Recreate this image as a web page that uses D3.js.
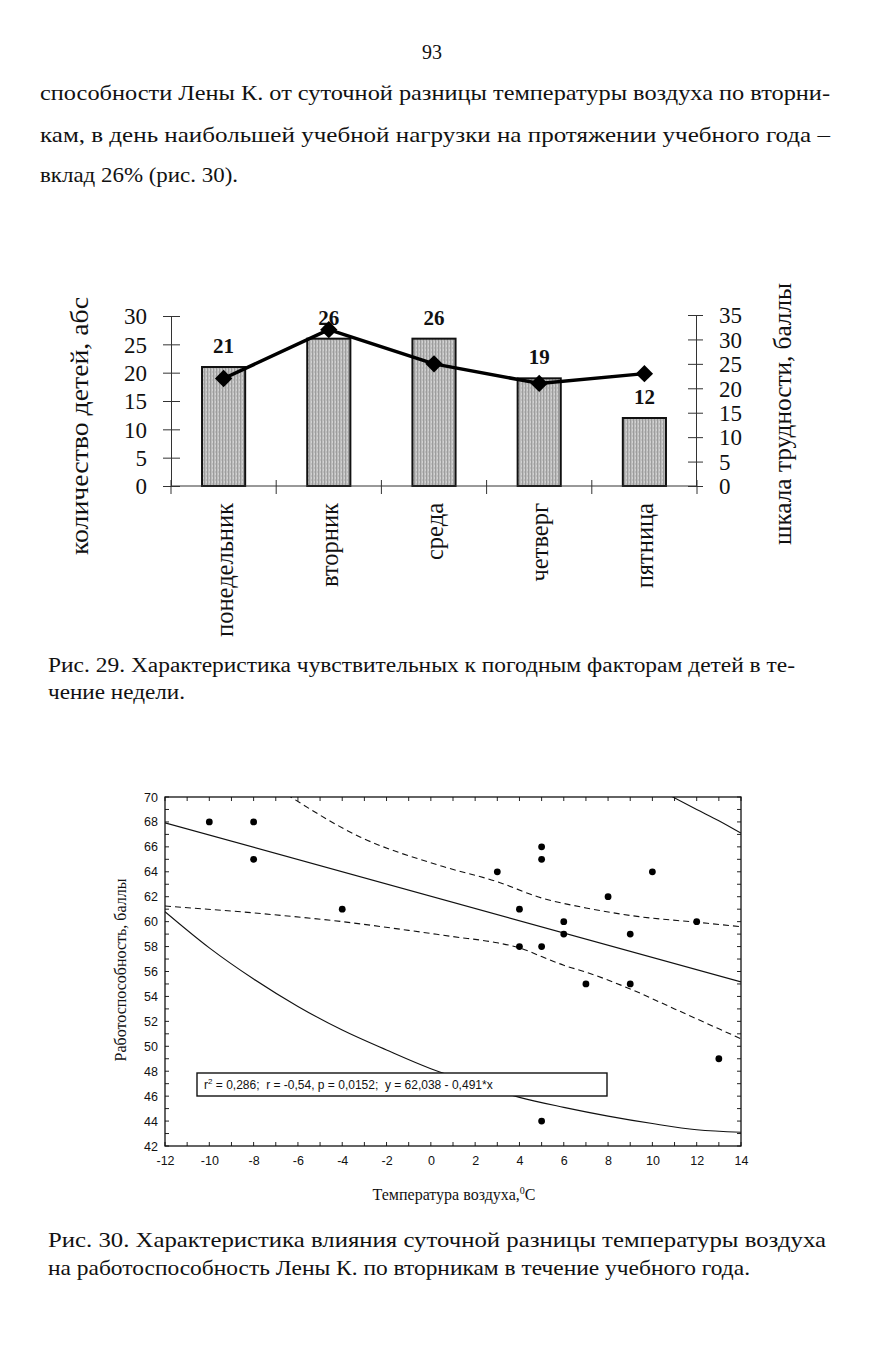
<!DOCTYPE html>
<html><head><meta charset="utf-8">
<script src="https://cdn.jsdelivr.net/npm/d3@7"></script>
<style>body{margin:0;background:#fff}svg{display:block}</style>
</head><body>
<script>
// ---------- data: figure 29 ----------
const days = ["понедельник","вторник","среда","четверг","пятница"];
const childrenCount = [21,26,26,19,12];
const difficulty = [22,32,25,21,23];
const leftTicks = [0,5,10,15,20,25,30];
const rightTicks = [0,5,10,15,20,25,30,35];

// ---------- data: figure 30 ----------
const tempX = [-10,-8,-8,-4,3,4,4,5,5,5,5,6,6,7,8,9,9,10,12,13];
const workY = [68,68,65,61,64,61,58,66,65,58,44,60,59,55,62,59,55,64,60,49];
const regLine = [[-12,67.93],[14,55.17]];
const confUpper = [[-6.5,70.2],[-3.2,66.8],[0.4,64.5],[3,63.2],[5,61.9],[7,61.1],[9.4,60.4],[12,59.95],[14,59.6]];
const confLower = [[-12,61.25],[-8,60.7],[-4,60.0],[-1,59.3],[1,58.8],[3,58.3],[4,57.9],[5,57.2],[6,56.5],[7,55.95],[9,54.6],[11,53.0],[13,51.4],[14,50.6]];
const predLower = [[-12,60.8],[-10,57.9],[-8,55.4],[-6,53.2],[-4,51.3],[-2,49.7],[0,48.2],[2,47.0],[4,45.9],[6,45.1],[8,44.4],[10,43.8],[12,43.3],[14,43.1]];
const predUpper = [[10.6,70.3],[12,69.0],[13,68.1],[14,67.1]];
const xTicks30 = [-12,-10,-8,-6,-4,-2,0,2,4,6,8,10,12,14];
const yTicks30 = [42,44,46,48,50,52,54,56,58,60,62,64,66,68,70];

const W = 873, H = 1350;
const serif = "Liberation Serif, Tinos, Times New Roman, serif";
const sans = "Liberation Sans, Arimo, Arial, sans-serif";

const svg = d3.select("body").append("svg").attr("width",W).attr("height",H);
svg.append("rect").attr("width",W).attr("height",H).attr("fill","#fff");

function line(txt,x,y,size,len,anchor){
  const t = svg.append("text").attr("x",x).attr("y",y).style("font-family",serif)
    .attr("font-size",size).attr("fill","#111").text(txt);
  if(anchor) t.attr("text-anchor",anchor);
  if(len) t.attr("textLength",len).attr("lengthAdjust","spacingAndGlyphs");
  return t;
}
// page text
line("93",432,59,20,null,"middle");
line("способности Лены К. от суточной разницы температуры воздуха по вторни-",40,100,22,790);
line("кам, в день наибольшей учебной нагрузки на протяжении учебного года –",40,142,22,790);
line("вклад 26% (рис. 30).",40,182,22,198);
line("Рис. 29. Характеристика чувствительных к погодным факторам детей в те-",48,672,20,747);
line("чение недели.",48,699,20,137);
line("Рис. 30. Характеристика влияния суточной разницы температуры воздуха",48,1247,21,778);
line("на работоспособность Лены К. по вторникам в течение учебного года.",48,1275,21,702);

// ---------- figure 29 ----------
const defs = svg.append("defs");
const pat = defs.append("pattern").attr("id","tex").attr("patternUnits","userSpaceOnUse")
  .attr("width",3).attr("height",4);
pat.append("rect").attr("width",3).attr("height",4).attr("fill","#bdbdbd");
pat.append("rect").attr("width",1).attr("height",4).attr("fill","#9c9c9c");
pat.append("rect").attr("x",2).attr("y",1).attr("width",1).attr("height",2).attr("fill","#d2d2d2");

const xb = d3.scaleBand().domain(days).range([171,697]).paddingInner(0.59).paddingOuter(0.295);
const yL = d3.scaleLinear().domain([0,30]).range([486,316]);
const yR = d3.scaleLinear().domain([0,35]).range([486,315]);

const g1 = svg.append("g");
g1.selectAll("rect.bar").data(days).join("rect").attr("class","bar")
  .attr("x",d=>xb(d)).attr("width",xb.bandwidth())
  .attr("y",(d,i)=>yL(childrenCount[i])).attr("height",(d,i)=>yL(0)-yL(childrenCount[i]))
  .attr("fill","url(#tex)").attr("stroke","#111").attr("stroke-width",2);

const axL = g1.append("g").attr("transform","translate(171,0)")
  .call(d3.axisLeft(yL).tickValues(leftTicks).tickSize(8).tickSizeOuter(0).tickPadding(16));
axL.select(".domain").attr("stroke","#333").attr("stroke-width",1);
axL.selectAll(".tick line").attr("x2",-8).attr("x1",9).attr("stroke","#333");
axL.selectAll("text").style("font-family",serif).attr("font-size",23).attr("fill","#111").attr("dy","0.34em");
const axR = g1.append("g").attr("transform","translate(696,0)")
  .call(d3.axisRight(yR).tickValues(rightTicks).tickSize(7).tickSizeOuter(0).tickPadding(16));
axR.select(".domain").attr("stroke","#333").attr("stroke-width",1);
axR.selectAll(".tick line").attr("x1",-8).attr("x2",7).attr("stroke","#333");
axR.selectAll("text").style("font-family",serif).attr("font-size",23).attr("fill","#111").attr("dy","0.34em");
const bounds = days.map(d=>xb(d)-xb.step()*xb.paddingInner()/2).concat([697]);
g1.append("line").attr("x1",171).attr("x2",697).attr("y1",486).attr("y2",486).attr("stroke","#333");
g1.selectAll("line.ct").data(bounds).join("line").attr("class","ct")
  .attr("x1",d=>d).attr("x2",d=>d).attr("y1",480).attr("y2",494).attr("stroke","#333");
g1.selectAll("text.cat").data(days).join("text").attr("class","cat")
  .attr("transform",d=>`translate(${xb(d)+xb.bandwidth()/2+9},503) rotate(-90)`)
  .attr("text-anchor","end").style("font-family",serif).attr("font-size",24.5).attr("fill","#111")
  .text(d=>d);
g1.selectAll("text.val").data(days).join("text").attr("class","val")
  .attr("x",d=>xb(d)+xb.bandwidth()/2).attr("y",(d,i)=>yL(childrenCount[i])-14)
  .attr("text-anchor","middle").style("font-family",serif).attr("font-weight","bold")
  .attr("font-size",21).attr("fill","#111").text((d,i)=>childrenCount[i]);
const lineGen = d3.line().x((d,i)=>xb(days[i])+xb.bandwidth()/2).y(d=>yR(d));
g1.append("path").datum(difficulty).attr("d",lineGen).attr("fill","none")
  .attr("stroke","#000").attr("stroke-width",3.5).attr("stroke-linejoin","round");
g1.selectAll("path.mk").data(difficulty).join("path").attr("class","mk")
  .attr("d",d3.symbol().type(d3.symbolSquare).size(150))
  .attr("transform",(d,i)=>`translate(${xb(days[i])+xb.bandwidth()/2},${yR(d)}) rotate(45)`)
  .attr("fill","#000");
svg.append("text").attr("transform","translate(88,426) rotate(-90)").attr("text-anchor","middle")
  .style("font-family",serif).attr("font-size",25).attr("fill","#111")
  .attr("textLength",258).attr("lengthAdjust","spacingAndGlyphs").text("количество детей, абс");
svg.append("text").attr("transform","translate(791,414) rotate(-90)").attr("text-anchor","middle")
  .style("font-family",serif).attr("font-size",25).attr("fill","#111")
  .attr("textLength",262).attr("lengthAdjust","spacingAndGlyphs").text("шкала трудности, баллы");

// ---------- figure 30 ----------
const xs = d3.scaleLinear().domain([-12,14]).range([165,741]);
const ys = d3.scaleLinear().domain([42,70]).range([1146,797]);
const g2 = svg.append("g");
defs.append("clipPath").attr("id","plotclip").append("rect")
  .attr("x",165).attr("y",797).attr("width",576).attr("height",349);

const minorX = d3.range(-12,15,1), minorY = d3.range(42,71,1);
const axB = g2.append("g").attr("transform","translate(0,1146)")
  .call(d3.axisBottom(xs).tickValues(xTicks30).tickFormat(d=>String(d)).tickSize(0).tickPadding(10));
axB.select(".domain").remove();
axB.selectAll("text").style("font-family",sans).attr("font-size",12.5).attr("fill","#111");
const axLy = g2.append("g").attr("transform","translate(165,0)")
  .call(d3.axisLeft(ys).tickValues(yTicks30).tickFormat(d=>String(d)).tickSize(0).tickPadding(7));
axLy.select(".domain").remove();
axLy.selectAll("text").style("font-family",sans).attr("font-size",12.5).attr("fill","#111");
g2.selectAll("line.tb").data(minorX).join("line").attr("class","tb")
  .attr("x1",d=>xs(d)).attr("x2",d=>xs(d)).attr("y1",1146).attr("y2",1142).attr("stroke","#222");
g2.selectAll("line.tt").data(minorX).join("line").attr("class","tt")
  .attr("x1",d=>xs(d)).attr("x2",d=>xs(d)).attr("y1",797).attr("y2",801).attr("stroke","#222");
g2.selectAll("line.tl").data(minorY).join("line").attr("class","tl")
  .attr("x1",165).attr("x2",169).attr("y1",d=>ys(d)).attr("y2",d=>ys(d)).attr("stroke","#222");
g2.selectAll("line.tr").data(minorY).join("line").attr("class","tr")
  .attr("x1",741).attr("x2",737).attr("y1",d=>ys(d)).attr("y2",d=>ys(d)).attr("stroke","#222");

const pl = g2.append("g").attr("clip-path","url(#plotclip)");
const lg = d3.line().x(d=>xs(d[0])).y(d=>ys(d[1])).curve(d3.curveMonotoneX);
pl.append("path").datum(regLine).attr("d",lg).attr("fill","none").attr("stroke","#111").attr("stroke-width",1.2);
[confUpper,confLower].forEach(c=>pl.append("path").datum(c).attr("d",lg).attr("fill","none")
  .attr("stroke","#111").attr("stroke-width",1.1).attr("stroke-dasharray","6,4"));
[predUpper,predLower].forEach(c=>pl.append("path").datum(c).attr("d",lg).attr("fill","none")
  .attr("stroke","#111").attr("stroke-width",1.1));

g2.append("rect").attr("x",197).attr("y",1073).attr("width",410).attr("height",23)
  .attr("fill","#fff").attr("stroke","#111").attr("stroke-width",1.4);
const ann = g2.append("text").attr("x",204).attr("y",1089).style("font-family",sans)
  .attr("font-size",12).attr("fill","#111");
ann.append("tspan").text("r");
ann.append("tspan").attr("dy",-5).attr("font-size",8).text("2");
ann.append("tspan").attr("dy",5)
  .text("\u00a0= 0,286;\u00a0\u00a0r = -0,54, p = 0,0152;\u00a0\u00a0y = 62,038 - 0,491*x");

g2.selectAll("circle.pt").data(tempX).join("circle").attr("class","pt")
  .attr("cx",d=>xs(d)).attr("cy",(d,i)=>ys(workY[i])).attr("r",3.4).attr("fill","#000");

g2.append("rect").attr("x",165).attr("y",797).attr("width",576).attr("height",349)
  .attr("fill","none").attr("stroke","#111").attr("stroke-width",1.3);

const xt = svg.append("text").attr("x",454).attr("y",1200).attr("text-anchor","middle")
  .style("font-family",serif).attr("font-size",16).attr("fill","#111");
xt.append("tspan").text("Температура воздуха,");
xt.append("tspan").attr("dy",-6).attr("font-size",10).text("0");
xt.append("tspan").attr("dy",6).text("C");
svg.append("text").attr("transform","translate(126,970) rotate(-90)").attr("text-anchor","middle")
  .style("font-family",serif).attr("font-size",16).attr("fill","#111").text("Работоспособность, баллы");
</script>
</body></html>
